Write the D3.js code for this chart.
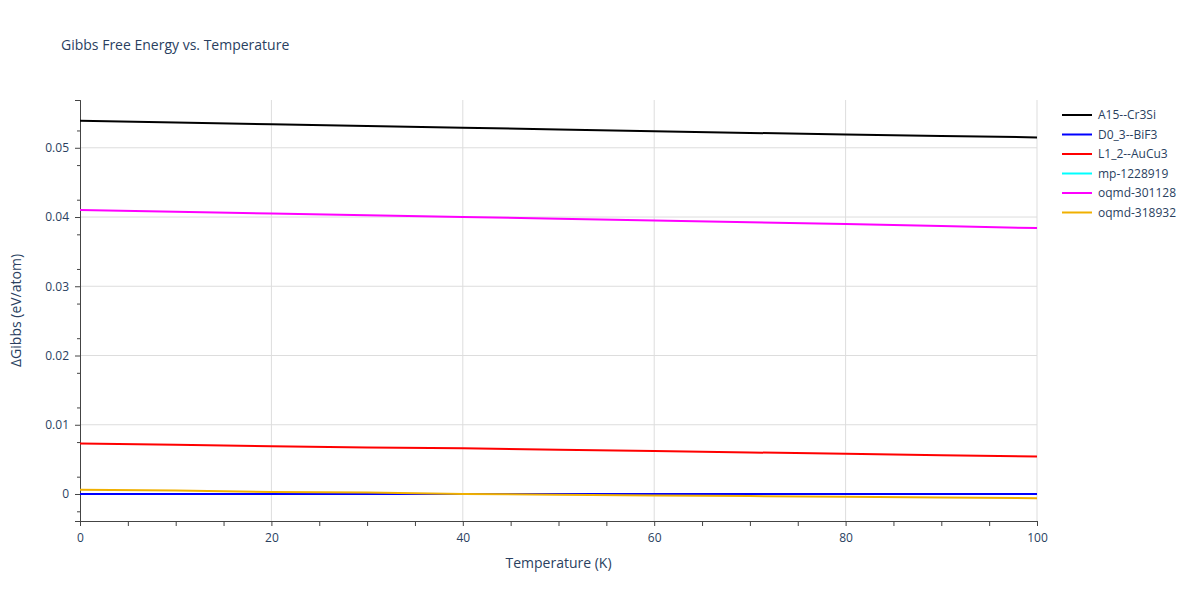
<!DOCTYPE html>
<html><head><meta charset="utf-8">
<script src="https://cdn.jsdelivr.net/npm/d3@7"></script>
<style>body{margin:0;background:#fff;font-family:"Open Sans",sans-serif;}</style>
</head><body><svg id="c" width="1200" height="600"></svg>
<script>
const temps = [0,10,20,30,40,50,60,70,80,90,100];
const seriesNames = ["A15--Cr3Si","D0_3--BiF3","L1_2--AuCu3","mp-1228919","oqmd-301128","oqmd-318932"];
const colors = ["#000000","#0000ff","#ff0000","#00ffff","#ff00ff","#f0b000"];
const A15 = [0.0539,0.05365,0.0534,0.05315,0.0529,0.05265,0.0524,0.05215,0.0519,0.0517,0.0515];
const D03 = [0,0,0,0,0,0,0,0,0,0,0];
const L12 = [0.0073,0.0071,0.0069,0.0067,0.0066,0.0064,0.0062,0.0060,0.0058,0.0056,0.0054];
const mp = [0,0,0,0,0,0,0,0,0,0,0];
const oq301 = [0.0410,0.04075,0.0405,0.04025,0.0400,0.03975,0.0395,0.03925,0.0390,0.0387,0.0384];
const oq318 = [0.0006,0.0005,0.0003,0.0002,0.0000,-0.0001,-0.0002,-0.0003,-0.0004,-0.0005,-0.0006];
const allSeries = [A15,D03,L12,mp,oq301,oq318];
const xTicks = [0,20,40,60,80,100];
const yTicks = [0,0.01,0.02,0.03,0.04,0.05];

const svg = d3.select("#c");
const L=80,R=1037,T=100,B=521;
const x = d3.scaleLinear().domain([0,100]).range([L,R]);
const y = d3.scaleLinear().domain([-0.0039,0.0569]).range([B,T]);
const g = svg.append("g");
xTicks.slice(1).forEach(t=>g.append("line").attr("x1",x(t)).attr("x2",x(t)).attr("y1",T).attr("y2",B).attr("stroke","#ddd"));
yTicks.forEach(t=>g.append("line").attr("x1",L).attr("x2",R).attr("y1",y(t)).attr("y2",y(t)).attr("stroke","#ddd"));
const ax = svg.append("g").attr("transform",`translate(0,${B})`).call(d3.axisBottom(x).tickValues(xTicks).tickSize(0).tickPadding(12));
const axm = svg.append("g").attr("transform",`translate(0,${B})`).call(d3.axisBottom(x).tickValues(d3.range(0,101,5)).tickSize(5).tickFormat(""));
const ay = svg.append("g").attr("transform",`translate(${L},0)`).call(d3.axisLeft(y).tickValues(yTicks).tickSize(5).tickPadding(6).tickFormat(d=>d===0?"0":d3.format(".2f")(d)));
const aym = svg.append("g").attr("transform",`translate(${L},0)`).call(d3.axisLeft(y).tickValues(d3.range(-0.0025,0.0569,0.005).filter(v=>Math.abs(Math.round(v*200)-v*200)>0.1)).tickSize(3).tickFormat(""));
[ax,axm,ay,aym].forEach(a=>{a.selectAll("path.domain").attr("stroke","#444");a.selectAll("line").attr("stroke","#444");a.selectAll("text").attr("fill","#2a3f5f").style("font-size","12px").style("font-family","Open Sans");});
ax.select("path.domain").remove();
const line = d3.line().x((d,i)=>x(temps[i])).y(d=>y(d));
[3,1,2,0,4,5].forEach(i=>svg.append("path").attr("d",line(allSeries[i])).attr("fill","none").attr("stroke",colors[i]).attr("stroke-width",2));
svg.append("text").attr("x",61).attr("y",50).text("Gibbs Free Energy vs. Temperature").attr("fill","#2a3f5f").style("font-size","14px");
svg.append("text").attr("x",(L+R)/2).attr("y",568).attr("text-anchor","middle").text("Temperature (K)").attr("fill","#2a3f5f").style("font-size","14px");
svg.append("text").attr("transform",`translate(21,${(T+B)/2}) rotate(-90)`).attr("text-anchor","middle").text("ΔGibbs (eV/atom)").attr("fill","#2a3f5f").style("font-size","14px");
seriesNames.forEach((n,i)=>{const yy=115+i*19.5;
svg.append("line").attr("x1",1062).attr("x2",1092).attr("y1",yy).attr("y2",yy).attr("stroke",colors[i]).attr("stroke-width",2);
svg.append("text").attr("x",1098).attr("y",yy+4).text(n).attr("fill","#2a3f5f").style("font-size","12px");});
</script></body></html>
